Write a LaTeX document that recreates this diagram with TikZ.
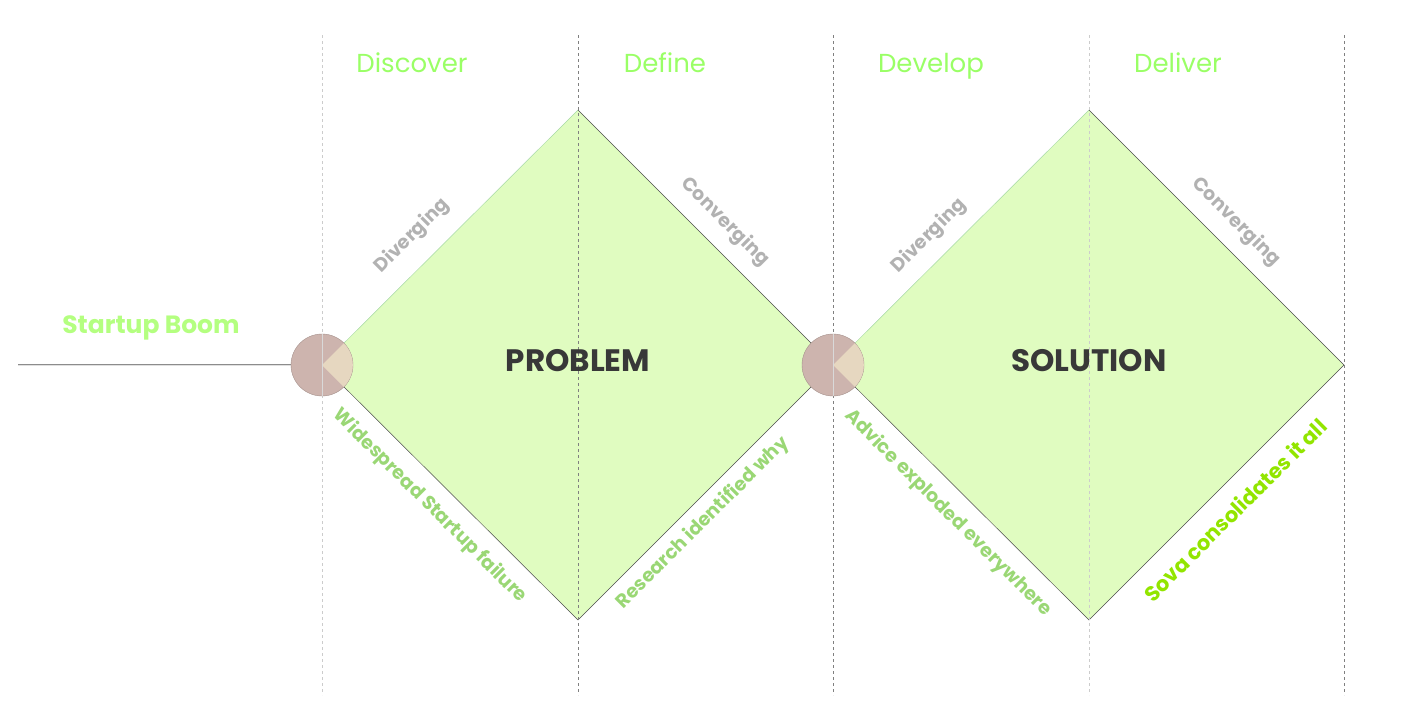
\documentclass[tikz,border=0pt]{standalone}
\usepackage{fontspec}
\setmainfont{Poppins}
\begin{document}
\begin{tikzpicture}[x=1pt,y=-1pt,
  vl/.style={dashed,line width=0.8pt},
  head/.style={font=\fontsize{26}{28}\selectfont, text=green!55!lime!60!white, anchor=base},
  side/.style={font=\bfseries\fontsize{19}{21}\selectfont, text=black!30},
  low/.style={font=\bfseries\fontsize{19}{21}\selectfont, text=green!50!lime!55!gray!70!white},
  big/.style={font=\bfseries\fontsize{31}{33}\selectfont, text=black!78}]
\definecolor{dfill}{HTML}{E0FCC0}
\definecolor{cfill}{HTML}{CDB4AE}
\definecolor{wfill}{HTML}{E6D7C0}
\useasboundingbox (0,0) rectangle (1416,728);
% diamonds
\fill[dfill] (322,365) -- (578,110) -- (833,365) -- (578,620) -- cycle;
\fill[dfill] (833,365) -- (1089,110) -- (1344,365) -- (1089,620) -- cycle;
\draw[green!40!gray!50,line width=0.5pt] (322,365) -- (578,110);
\draw[black!70,line width=0.5pt] (578,110) -- (833,365) -- (578,620);
\draw[black!70,line width=0.5pt] (322,365) -- (578,620);
\draw[green!40!gray!50,line width=0.5pt] (833,365) -- (1089,110);
\draw[black!70,line width=0.5pt] (1089,110) -- (1344,365) -- (1089,620) -- (833,365);
% vertical lines
\draw[vl,black!20] (322,35) -- (322,695);
\draw[vl,black!50] (578,35) -- (578,695);
\draw[vl,black!50] (833,35) -- (833,695);
\draw[vl,black!20] (1089,35) -- (1089,695);
\draw[vl,black!50] (1344,35) -- (1344,695);
% start line
\draw[black!45,line width=2.2pt] (18,365) -- (291,365);
\draw[black!12,line width=0.8pt] (18,365) -- (291,365);
% circles
\foreach \cx/\n in {322/c1,833/c2}{
  \node[circle,minimum size=62pt,inner sep=0pt,fill=cfill,draw=cfill!80!black,line width=0.4pt] (\n) at (\cx,365) {};
  \begin{scope}
    \clip (\cx,365) circle[radius=30.8pt];
    \fill[wfill] (\cx,365) -- ++(40,-40) -- ++(0,80) -- cycle;
  \end{scope}
  \draw[black!15,line width=0.8pt] (\cx,334) -- (\cx,396);
}
% headings
\node[head] (h1) at (412,72) {Discover};
\node[head] (h2) at (665,72) {Define};
\node[head] (h3) at (931,72) {Develop};
\node[head] (h4) at (1178,72) {Deliver};
\node[font=\bfseries\fontsize{25}{27}\selectfont, text=green!45!lime!50!white] (sb) at (151,328) {Startup Boom};
\node[big] (p) at (578,361) {PROBLEM};
\node[big] (s) at (1089,361) {SOLUTION};
% side labels
\node[side,rotate=45] (d1) at (412,236) {Diverging};
\node[side,rotate=-45] (k1) at (725,222) {Converging};
\node[side,rotate=45] (d2) at (929,236) {Diverging};
\node[side,rotate=-45] (k2) at (1236,222) {Converging};
\node[low,rotate=-45] (l1) at (430,506) {Widespread Startup failure};
\node[low,rotate=45] (l2) at (703,523) {Research identified why};
\node[low,rotate=-45] (l3) at (948,513) {Advice exploded everywhere};
\node[font=\bfseries\fontsize{21}{23}\selectfont,text=lime!85!green!90!black,rotate=45] (l4) at (1235,510) {Sova consolidates it all};
\end{tikzpicture}
\end{document}
